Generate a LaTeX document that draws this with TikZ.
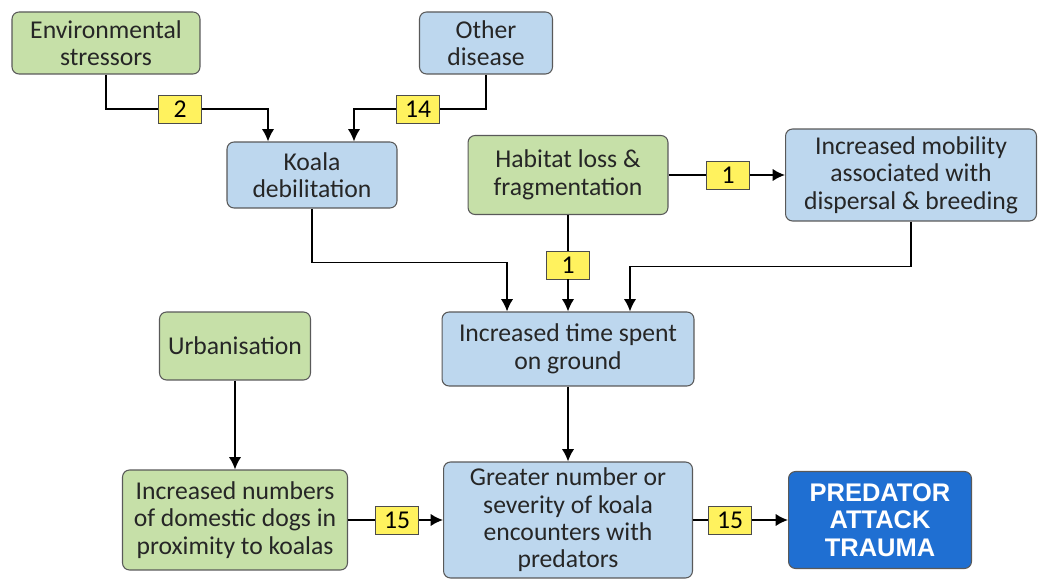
\documentclass[tikz,border=0pt]{standalone}
\usepackage{fontspec}
\setmainfont{Carlito}
\newfontfamily\headfont{Liberation Sans}
\usepackage{xcolor}
\usetikzlibrary{arrows.meta,positioning}

\definecolor{boxgreen}{HTML}{C6E0A8}
\definecolor{boxblue}{HTML}{BDD7EE}
\definecolor{boxdark}{HTML}{1F6FD2}
\definecolor{badgeyellow}{HTML}{FFF25E}

\begin{document}
\begin{tikzpicture}
[x=0.02cm,y=-0.02cm,
      font=\fontsize{14.6}{15.6}\selectfont,
      box/.style={draw=black!65,rounded corners=4pt,align=center,inner sep=2pt,line width=0.6pt,text=black!85},
      cause/.style={box,fill=boxgreen},
      effect/.style={box,fill=boxblue},
      outcome/.style={box,fill=boxdark,text=white,font=\headfont\bfseries\fontsize{14.5}{15.5}\selectfont},
      num/.style={draw=black!70,fill=badgeyellow,minimum width=0.86cm,minimum height=0.56cm,inner sep=0pt},
      link/.style={-{Latex[length=7pt,width=7pt]},line width=1pt}]
 \useasboundingbox (0,0) rectangle (1053,580);
 \node[cause,minimum width=3.76cm,minimum height=1.24cm] (env) at (106,43) {Environmental\\stressors};
 \node[effect,minimum width=2.66cm,minimum height=1.24cm] (oth) at (486,43) {Other\\disease};
 \node[effect,minimum width=3.4cm,minimum height=1.32cm] (deb) at (312,175) {Koala\\debilitation};
 \node[cause,minimum width=4.0cm,minimum height=1.58cm] (hab) at (568,175) {Habitat loss \&\\fragmentation};
 \node[effect,minimum width=5.02cm,minimum height=1.84cm] (mob) at (911,175) {Increased mobility\\associated with\\dispersal \& breeding};
 \node[effect,minimum width=5.04cm,minimum height=1.48cm] (gnd) at (568,349) {Increased time spent\\on ground};
 \node[cause,minimum width=3.02cm,minimum height=1.36cm] (urb) at (235,346) {Urbanisation};
 \node[cause,minimum width=4.5cm,minimum height=2.0cm] (dog) at (235,520) {Increased numbers\\of domestic dogs in\\proximity to koalas};
 \node[effect,minimum width=4.98cm,minimum height=2.32cm] (enc) at (568,520) {Greater number or\\severity of koala\\encounters with\\predators};
 \node[outcome,minimum width=3.66cm,minimum height=1.94cm] (pat) at (880,520) {PREDATOR\\ATTACK\\TRAUMA};
 \node[num] (n2) at (180,109) {2};
 \node[num] (n14) at (418,109) {14};
 \node[num] (n1a) at (728,175) {1};
 \node[num] (n1b) at (568,265) {1};
 \node[num] (n15a) at (397,520) {15};
 \node[num] (n15b) at (730,520) {15};
 \draw[line width=1pt] (env.south) |- (n2.west);
 \draw[link] (n2.east) -| ([xshift=-0.88cm]deb.north);
 \draw[line width=1pt] (oth.south) |- (n14.east);
 \draw[link] (n14.west) -| ([xshift=0.84cm]deb.north);
 \draw[line width=1pt] (hab.east) -- (n1a.west);
 \draw[link] (n1a.east) -- (mob.west);
 \draw[line width=1pt] (hab.south) -- (n1b.north);
 \draw[link] (n1b.south) -- (gnd.north);
 \draw[link] (deb.south) -- ++(0,54) -| ([xshift=-1.22cm]gnd.north);
 \draw[link] (mob.south) -- ++(0,45) -| ([xshift=1.24cm]gnd.north);
 \draw[link] (urb) -- (dog);
 \draw[link] (gnd) -- (enc);
 \draw[line width=1pt] (dog.east) -- (n15a.west);
 \draw[link] (n15a.east) -- (enc.west);
 \draw[line width=1pt] (enc.east) -- (n15b.west);
 \draw[link] (n15b.east) -- (pat.west);
\end{tikzpicture}
\end{document}
